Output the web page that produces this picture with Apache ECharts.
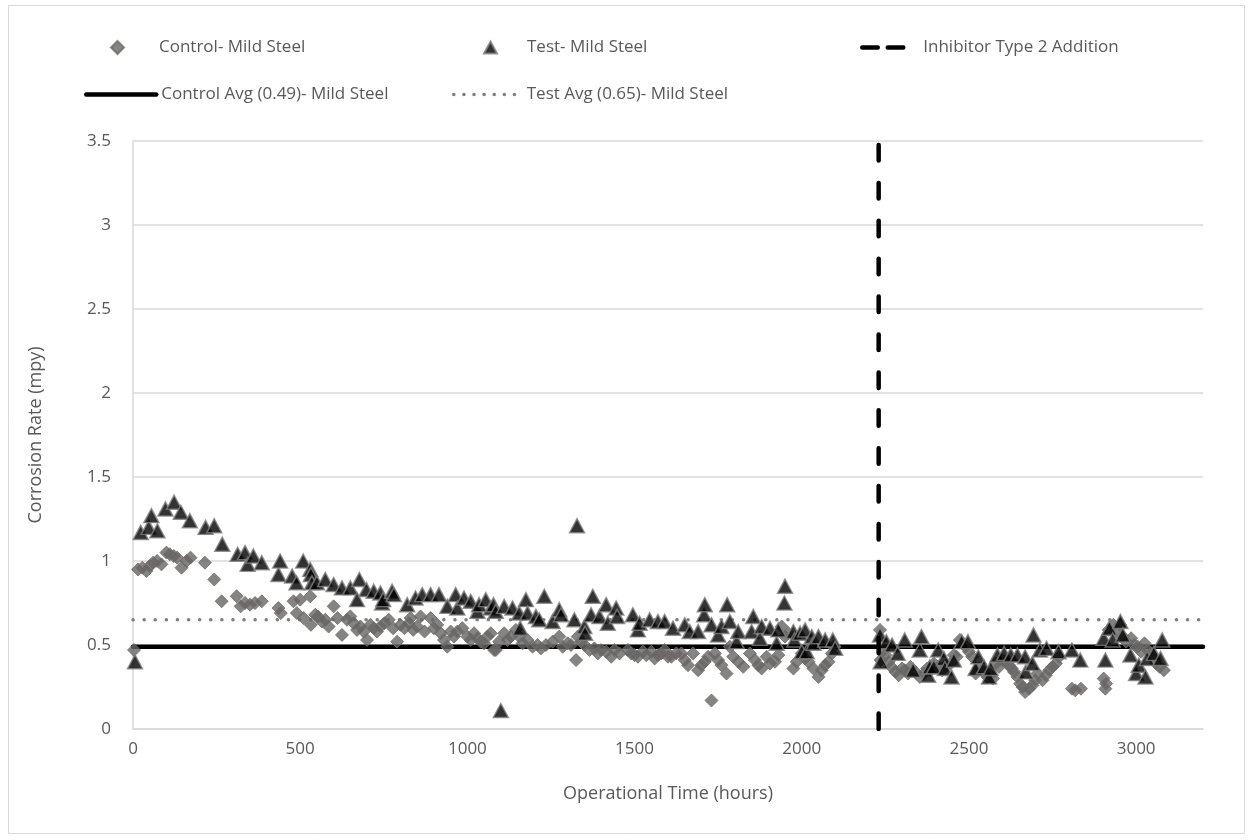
<!DOCTYPE html>
<html>
<head>
<meta charset="utf-8">
<title>Corrosion Rate - Mild Steel</title>
<script src="https://cdn.jsdelivr.net/npm/echarts@6/dist/echarts.min.js"></script>
<style>
  html, body { margin: 0; padding: 0; background: #ffffff; }
  #chart { width: 1253px; height: 840px; }
</style>
</head>
<body>
<div id="chart"></div>
<script>
// Control coupon readings: [operational hours, corrosion rate (mpy)]
const controlPoints = [
  [3,0.47],[15,0.95],[28,0.96],[40,0.94],[50,0.97],[60,0.99],[72,1.00],[85,0.98],[100,1.05],[110,1.04],
  [122,1.03],[132,1.02],[145,0.96],[160,1.00],[172,1.02],[215,0.99],[243,0.89],[265,0.76],[310,0.79],[322,0.73],
  [335,0.75],[350,0.74],[365,0.75],[385,0.76],[435,0.72],[442,0.69],[480,0.76],[490,0.69],[500,0.77],[510,0.66],
  [530,0.79],[532,0.62],[545,0.68],[553,0.67],[565,0.64],[575,0.65],[585,0.61],[600,0.73],[612,0.66],[625,0.56],
  [640,0.65],[650,0.67],[660,0.63],[670,0.59],[680,0.61],[690,0.58],[700,0.53],[710,0.62],[720,0.60],[730,0.58],
  [740,0.61],[752,0.63],[765,0.65],[778,0.60],[790,0.52],[800,0.62],[812,0.60],[825,0.63],[830,0.66],[838,0.59],
  [850,0.61],[860,0.67],[872,0.58],[890,0.66],[900,0.60],[910,0.62],[920,0.57],[930,0.53],[940,0.49],[950,0.58],
  [960,0.55],[970,0.58],[985,0.60],[1000,0.55],[1010,0.53],[1020,0.57],[1030,0.54],[1040,0.52],[1050,0.51],[1060,0.55],
  [1070,0.57],[1080,0.47],[1085,0.47],[1095,0.52],[1110,0.57],[1120,0.53],[1130,0.55],[1145,0.59],[1155,0.55],[1165,0.51],
  [1180,0.53],[1195,0.49],[1210,0.50],[1220,0.48],[1235,0.50],[1255,0.52],[1275,0.55],[1285,0.49],[1300,0.51],[1310,0.50],
  [1325,0.41],[1330,0.55],[1340,0.52],[1350,0.50],[1365,0.47],[1380,0.48],[1390,0.45],[1400,0.47],[1415,0.46],[1430,0.43],
  [1440,0.47],[1455,0.45],[1480,0.47],[1490,0.45],[1500,0.44],[1510,0.43],[1525,0.46],[1535,0.44],[1550,0.46],[1560,0.42],
  [1570,0.44],[1580,0.45],[1590,0.47],[1600,0.43],[1610,0.43],[1625,0.45],[1640,0.45],[1650,0.41],[1660,0.38],[1675,0.45],
  [1690,0.35],[1700,0.38],[1710,0.40],[1720,0.43],[1730,0.17],[1740,0.45],[1750,0.41],[1760,0.38],[1775,0.33],[1785,0.49],
  [1795,0.43],[1810,0.40],[1825,0.37],[1845,0.45],[1860,0.41],[1870,0.38],[1880,0.36],[1895,0.43],[1905,0.39],[1920,0.40],
  [1930,0.44],[1940,0.61],[1950,0.55],[1960,0.57],[1975,0.36],[1985,0.40],[2000,0.45],[2010,0.42],[2020,0.40],[2035,0.36],
  [2050,0.31],[2060,0.35],[2070,0.38],[2080,0.40],[2090,0.45],[2095,0.49],
  [2234,0.59],[2236,0.41],[2245,0.47],[2250,0.44],[2260,0.40],[2268,0.37],[2280,0.34],[2290,0.32],[2300,0.36],[2308,0.35],
  [2318,0.33],[2325,0.37],[2340,0.34],[2353,0.31],[2365,0.33],[2375,0.36],[2385,0.35],[2395,0.39],[2408,0.37],[2420,0.35],
  [2432,0.38],[2445,0.39],[2455,0.44],[2463,0.43],[2473,0.53],[2482,0.51],[2490,0.49],[2500,0.46],[2510,0.43],[2520,0.33],
  [2530,0.36],[2545,0.34],[2555,0.31],[2565,0.32],[2572,0.30],[2580,0.39],[2590,0.37],[2600,0.41],[2610,0.40],[2620,0.38],
  [2628,0.36],[2635,0.34],[2645,0.31],[2653,0.27],[2660,0.25],[2668,0.22],[2680,0.24],[2690,0.26],[2698,0.29],[2705,0.33],
  [2720,0.29],[2730,0.32],[2740,0.35],[2750,0.37],[2760,0.39],[2770,0.43],[2808,0.24],[2818,0.23],[2835,0.24],[2903,0.30],
  [2908,0.24],[2910,0.27],[2918,0.59],[2932,0.62],[2940,0.58],[2952,0.62],[2960,0.55],[2970,0.52],[2985,0.54],[2995,0.50],
  [3005,0.49],[3015,0.46],[3025,0.51],[3035,0.47],[3045,0.45],[3052,0.42],[3060,0.39],[3070,0.37],[3083,0.35]
];

// Test coupon readings: [operational hours, corrosion rate (mpy)]
const testPoints = [
  [6,0.40],[23,1.17],[47,1.20],[55,1.27],[73,1.18],[97,1.31],[123,1.35],[143,1.29],[170,1.24],[217,1.20],
  [243,1.21],[267,1.10],[313,1.04],[335,1.05],[343,0.98],[360,1.03],[385,0.99],[435,0.92],[440,1.00],[476,0.91],
  [489,0.87],[509,1.00],[530,0.95],[532,0.92],[535,0.87],[550,0.87],[575,0.89],[600,0.86],[625,0.84],[650,0.84],
  [670,0.77],[677,0.89],[698,0.83],[720,0.82],[740,0.81],[745,0.75],[748,0.77],[775,0.82],[780,0.80],[820,0.74],
  [845,0.78],[865,0.80],[890,0.80],[915,0.80],[940,0.73],[965,0.80],[970,0.72],[990,0.78],[1010,0.76],[1030,0.70],
  [1035,0.74],[1055,0.77],[1070,0.72],[1078,0.74],[1085,0.70],[1100,0.11],[1110,0.73],[1135,0.72],[1155,0.69],[1158,0.60],
  [1175,0.77],[1180,0.69],[1205,0.67],[1215,0.65],[1230,0.79],[1255,0.64],[1275,0.71],[1280,0.68],[1320,0.65],[1328,1.21],
  [1350,0.61],[1352,0.57],[1370,0.68],[1375,0.79],[1395,0.67],[1415,0.74],[1420,0.63],[1445,0.72],[1448,0.67],[1495,0.68],
  [1510,0.59],[1515,0.63],[1545,0.65],[1570,0.64],[1590,0.64],[1615,0.60],[1650,0.62],[1665,0.58],[1690,0.58],[1708,0.68],
  [1710,0.74],[1730,0.62],[1750,0.56],[1760,0.61],[1777,0.74],[1785,0.64],[1805,0.52],[1810,0.58],[1850,0.58],[1855,0.67],
  [1875,0.54],[1880,0.61],[1905,0.60],[1925,0.51],[1930,0.59],[1948,0.75],[1950,0.85],[1975,0.58],[1978,0.53],[1995,0.57],
  [2000,0.46],[2010,0.59],[2015,0.46],[2030,0.55],[2035,0.51],[2050,0.55],[2070,0.53],[2093,0.53],[2100,0.48],
  [2234,0.56],[2236,0.40],[2253,0.52],[2270,0.50],[2287,0.45],[2308,0.53],[2333,0.35],[2353,0.47],[2358,0.55],[2378,0.32],
  [2383,0.37],[2395,0.37],[2408,0.47],[2425,0.42],[2428,0.36],[2448,0.31],[2455,0.41],[2478,0.52],[2497,0.52],[2520,0.36],
  [2528,0.43],[2545,0.37],[2560,0.31],[2565,0.36],[2585,0.44],[2605,0.45],[2625,0.44],[2645,0.44],[2668,0.43],[2670,0.34],
  [2690,0.39],[2693,0.56],[2712,0.47],[2732,0.48],[2768,0.46],[2808,0.47],[2833,0.41],[2903,0.54],[2908,0.41],[2920,0.60],
  [2930,0.53],[2953,0.64],[2960,0.56],[2983,0.44],[3000,0.33],[3008,0.38],[3028,0.31],[3033,0.42],[3053,0.45],[3073,0.42],
  [3078,0.53]
];

// Reference values
const controlAvg = 0.49;
const testAvg = 0.65;
const inhibitorHour = 2230;
const xRange = [0, 3200];
const yRange = [0, 3.5];

const seriesNames = [
  'Control- Mild Steel',
  'Test- Mild Steel',
  'Inhibitor Type 2 Addition',
  'Control Avg (0.49)- Mild Steel',
  'Test Avg (0.65)- Mild Steel'
];

const FONT = '"Open Sans", sans-serif';
const TEXT_COLOR = '#595959';

// Line styles shared by the series and their legend samples
const inhibitorLine = { color: '#000000', width: 4.5, type: [15.5, 22.4], cap: 'round' };
const controlAvgLine = { color: '#000000', width: 4.5, cap: 'round' };
const testAvgLine = { color: '#7f7f7f', width: 3.5, type: [0.1, 11], cap: 'round' };

const chart = echarts.init(document.getElementById('chart'), null, { renderer: 'canvas' });

// One legend per entry so each can sit where it belongs
function legendAt(item, left, top, itemWidth, itemHeight, textPadLeft, lineStyle) {
  const lg = {
    data: [item],
    left: left,
    top: top,
    itemWidth: itemWidth,
    itemHeight: itemHeight,
    padding: 0,
    selectedMode: false,
    textStyle: {
      fontFamily: FONT, fontSize: 17, color: TEXT_COLOR,
      padding: [0, 0, 0, textPadLeft || 0]
    }
  };
  if (lineStyle) {
    // keep the line sample, hide the point marker drawn on it
    lg.itemStyle = { opacity: 0 };
    lg.lineStyle = {
      color: lineStyle.color,
      width: lineStyle.width,
      type: lineStyle.type ? (lineStyle.type.length ? [lineStyle.type[0], Math.min(lineStyle.type[1], 10)] : lineStyle.type) : 'solid',
      cap: lineStyle.cap
    };
  }
  return lg;
}

const option = {
  backgroundColor: '#ffffff',
  animation: false,
  graphic: [{
    type: 'rect',
    shape: { x: 8.5, y: 5.5, width: 1236, height: 828 },
    style: { fill: 'none', stroke: '#d9d9d9', lineWidth: 1 },
    silent: true,
    z: -10
  }],
  legend: [
    legendAt({ name: seriesNames[0], icon: 'diamond' }, 110, 39, 13, 13, 30),
    legendAt({ name: seriesNames[1], icon: 'triangle' }, 483, 39, 13, 12, 25),
    legendAt({ name: seriesNames[2] }, 860, 39, 46, 14, 10, inhibitorLine),
    legendAt({ name: seriesNames[3] }, 84, 86, 70, 14, 0, controlAvgLine),
    legendAt({ name: seriesNames[4] }, 452, 86, 68, 14, 0, testAvgLine)
  ],
  grid: { left: 133, right: 50, top: 141, bottom: 111, containLabel: false },
  xAxis: {
    type: 'value',
    min: xRange[0],
    max: xRange[1],
    interval: 500,
    name: 'Operational Time (hours)',
    nameLocation: 'middle',
    nameGap: 56,
    nameTextStyle: { fontFamily: FONT, fontSize: 18, color: TEXT_COLOR },
    axisLine: { show: true, lineStyle: { color: '#d9d9d9', width: 1.5 } },
    axisTick: { show: false },
    splitLine: { show: false },
    axisLabel: {
      fontFamily: FONT, fontSize: 17, color: TEXT_COLOR, margin: 12, showMaxLabel: false,
      formatter: function (v) { return String(v); }
    }
  },
  yAxis: {
    type: 'value',
    min: yRange[0],
    max: yRange[1],
    interval: 0.5,
    name: 'Corrosion Rate (mpy)',
    nameLocation: 'middle',
    nameGap: 88,
    nameTextStyle: { fontFamily: FONT, fontSize: 18, color: TEXT_COLOR },
    axisLine: { show: true, lineStyle: { color: '#d9d9d9', width: 1.5 } },
    axisTick: { show: false },
    splitLine: { show: true, lineStyle: { color: '#d9d9d9', width: 1.5 } },
    axisLabel: { fontFamily: FONT, fontSize: 17, color: TEXT_COLOR, margin: 22 }
  },
  series: [
    {
      name: seriesNames[0],
      type: 'scatter',
      data: controlPoints,
      symbol: 'diamond',
      symbolSize: 13,
      itemStyle: { color: '#686464', borderColor: '#6f6b6b', borderWidth: 1 },
      z: 3
    },
    {
      name: seriesNames[1],
      type: 'scatter',
      data: testPoints,
      symbol: 'triangle',
      symbolSize: [15, 14],
      itemStyle: { color: '#000000', borderColor: '#7f7f7f', borderWidth: 1.5 },
      z: 4
    },
    {
      name: seriesNames[2],
      type: 'line',
      data: [[inhibitorHour, yRange[0]], [inhibitorHour, yRange[1]]],
      symbol: 'none',
      lineStyle: inhibitorLine,
      itemStyle: { color: '#000000' },
      z: 5
    },
    {
      name: seriesNames[3],
      type: 'line',
      data: [[xRange[0], controlAvg], [xRange[1], controlAvg]],
      symbol: 'none',
      lineStyle: controlAvgLine,
      itemStyle: { color: '#000000' },
      z: 2
    },
    {
      name: seriesNames[4],
      type: 'line',
      data: [[xRange[0], testAvg], [xRange[1], testAvg]],
      symbol: 'none',
      lineStyle: testAvgLine,
      itemStyle: { color: '#7f7f7f' },
      z: 2
    }
  ]
};

chart.setOption(option);
</script>
</body>
</html>
